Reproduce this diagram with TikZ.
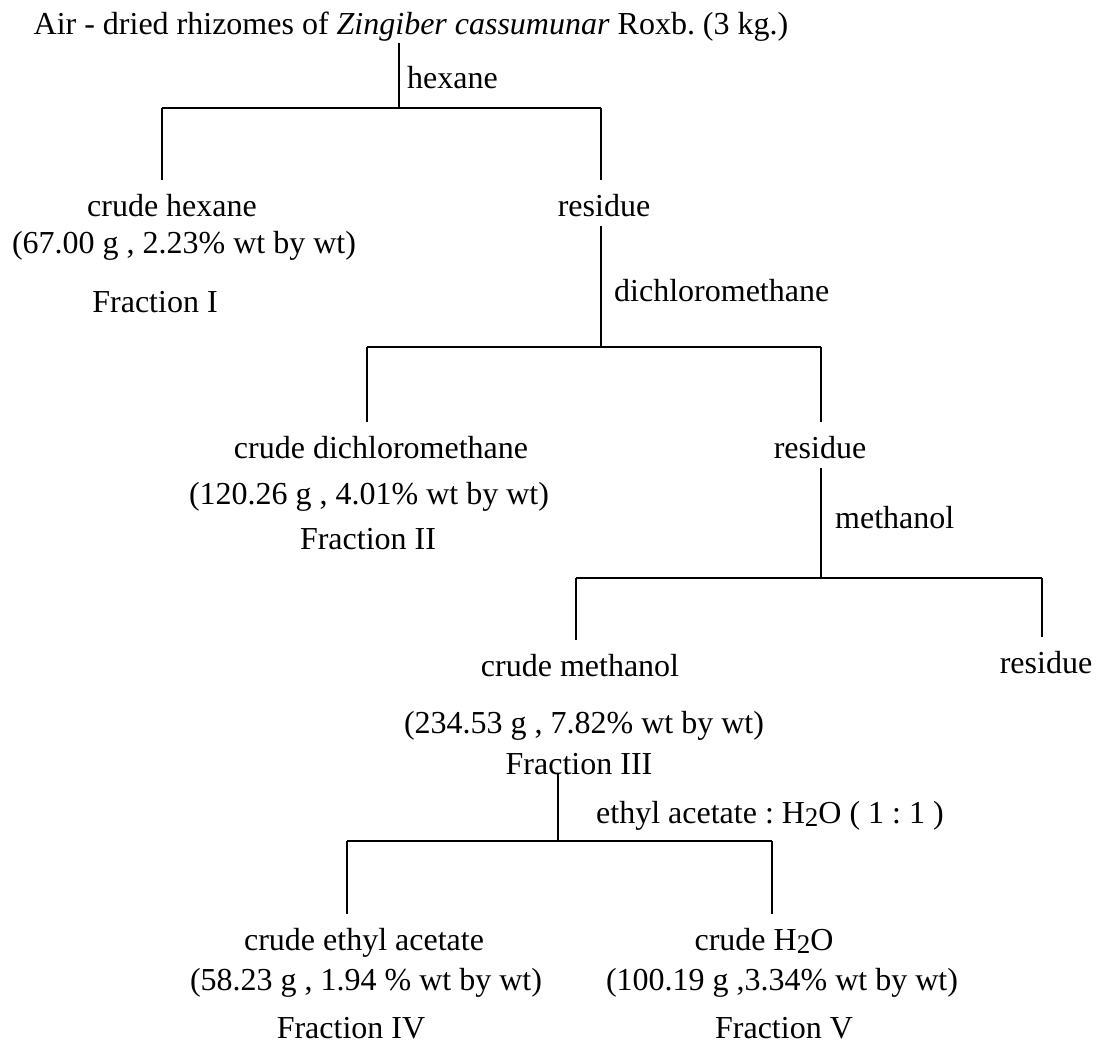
\documentclass[tikz,border=0pt]{standalone}
\usepackage{fontspec}
\setmainfont{Liberation Serif}
\usepackage{graphicx}
\usetikzlibrary{positioning}
\frenchspacing
\newcommand{\HtwoO}{H\raisebox{-0.1em}{\fontsize{27pt}{27pt}\selectfont 2}O}
\tikzset{
  every node/.style={font=\fontsize{32pt}{38pt}\selectfont,inner sep=1pt},
  crude/.style={anchor=base},
  solvent/.style={anchor=base west},
  link/.style={line width=1.6pt,black},
  drop/.style={link,shorten >=13pt},
}

\begin{document}
\begin{tikzpicture}[x=1pt,y=-1pt]
    \useasboundingbox (0,0) rectangle (1101,1046);

    % ------- start -------
    \node[crude] (plant) at (411,35) {Air - dried rhizomes of \textit{Zingiber cassumunar} Roxb. (3 kg.)};

    % ------- fractions -------
    \node[crude] (hex crude) at (172,216) {crude hexane};
    \node[crude] (hex data)  at (184,253) {(67.00 g , 2.23\% wt by wt)};
    \node[crude] (frac I)    at (155,312) {Fraction I};
    \node[crude] (res 1)     at (604,216) {residue};

    \node[crude] (dcm crude) at (381,458) {crude dichloromethane};
    \node[crude] (dcm data)  at (369,504) {(120.26 g , 4.01\% wt by wt)};
    \node[crude] (frac II)   at (368,549) {Fraction II};
    \node[crude] (res 2)     at (820,458) {residue};

    \node[crude] (meoh crude) at (580,676) {crude methanol};
    \node[crude] (meoh data)  at (584,733) {(234.53 g , 7.82\% wt by wt)};
    \node[crude] (frac III)   at (579,774) {Fraction III};
    \node[crude] (res 3)      at (1046,673) {residue};

    \node[crude] (etac crude) at (364,950)  {crude ethyl acetate};
    \node[crude] (etac data)  at (366,990)  {(58.23 g , 1.94 \% wt by wt)};
    \node[crude] (frac IV)    at (351,1038) {Fraction IV};
    \node[crude] (wat crude)  at (764,950)  {crude \HtwoO};
    \node[crude] (wat data)   at (782,990)  {(100.19 g ,3.34\% wt by wt)};
    \node[crude] (frac V)     at (784,1038) {Fraction V};

    % ------- solvents -------
    \node[solvent] (hexane)  at (406,89)  {hexane};
    \node[solvent] (dcm)     at (613,301) {dichloromethane};
    \node[solvent] (meoh)    at (834,528) {methanol};
    \node[solvent] (etac)    at (595,823) {ethyl acetate : \HtwoO{} ( 1 : 1 )};

    % ------- branches -------
    \coordinate (j1) at (399,108);  \coordinate (b1l) at (162,108);  \coordinate (b1r) at (601,108);
    \coordinate (j2) at (601,347);  \coordinate (b2l) at (367,347);  \coordinate (b2r) at (821,347);
    \coordinate (j3) at (821,578);  \coordinate (b3l) at (576,578);  \coordinate (b3r) at (1042,578);
    \coordinate (j4) at (558,841);  \coordinate (b4l) at (347,841);  \coordinate (b4r) at (772,841);

    \draw[link] (plant.south -| j1) -- (j1);
    \draw[link] (b1l) -- (b1r);
    \draw[drop] (b1l) -- (b1l |- hex crude.north);
    \draw[drop] (b1r) -- (b1r |- res 1.north);

    \draw[link, shorten <=8pt] (res 1.south -| j2) -- (j2);
    \draw[link] (b2l) -- (b2r);
    \draw[drop] (b2l) -- (b2l |- dcm crude.north);
    \draw[drop] (b2r) -- (b2r |- res 2.north);

    \draw[link, shorten <=8pt] (res 2.south -| j3) -- (j3);
    \draw[link] (b3l) -- (b3r);
    \draw[drop] (b3l) -- (b3l |- meoh crude.north);
    \draw[drop] (b3r) -- (b3r |- res 3.north);

    \draw[link] (frac III.base -| j4) -- (j4);
    \draw[link] (b4l) -- (b4r);
    \draw[drop] (b4l) -- (b4l |- etac crude.north);
    \draw[drop] (b4r) -- (b4r |- wat crude.north);
\end{tikzpicture}
\end{document}
